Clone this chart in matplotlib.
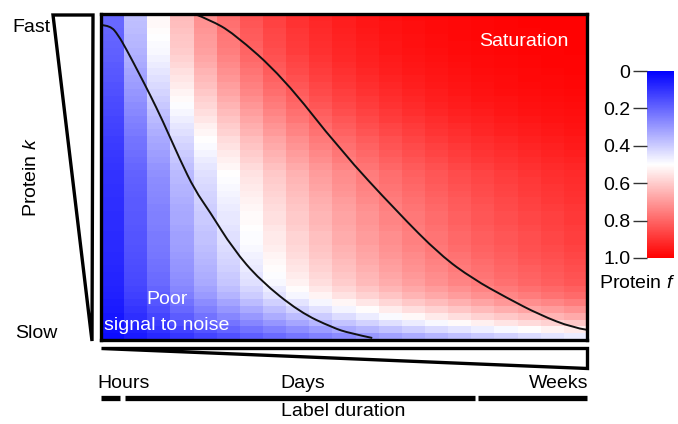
import numpy as np
import matplotlib
matplotlib.use('Agg')
import matplotlib.pyplot as plt
from matplotlib.patches import Polygon, PathPatch
from matplotlib.path import Path
from matplotlib import cm, colors

plt.rcParams['font.family'] = ['Liberation Sans', 'DejaVu Sans']
plt.rcParams['mathtext.fontset'] = 'custom'
plt.rcParams['mathtext.rm'] = 'Liberation Sans'
plt.rcParams['mathtext.it'] = 'Liberation Sans:italic'

# label duration per column (units of 1/k_fast)
label_time = [0.22, 0.45, 0.69, 0.95, 1.20, 1.45, 1.70, 1.95, 2.20, 2.45, 2.70,
              2.95, 3.20, 3.45, 3.70, 3.95, 4.20, 4.45, 4.70, 4.95, 5.20]
# relative turnover rate per row, fast (top) to slow (bottom)
protein_k = [1.05, 1.04, 1.02, 1.00, 0.98, 0.96, 0.93, 0.90, 0.87, 0.84, 0.81, 0.78,
             0.75, 0.72, 0.69, 0.66, 0.63, 0.61, 0.58, 0.56, 0.54, 0.52, 0.50, 0.48,
             0.47, 0.46, 0.45, 0.44, 0.43, 0.42, 0.42, 0.41, 0.40, 0.40, 0.39, 0.38,
             0.37, 0.36, 0.35, 0.34, 0.32, 0.30, 0.27, 0.24, 0.21, 0.18, 0.15, 0.12]

# guide curves in (column, row) units
lower_x = [0, 0.40, 0.74, 1.11, 1.68, 2.12, 2.65, 3.42, 4.05, 4.70, 5.71, 6.87,
           8.59, 10.02, 10.75, 11.72]
lower_y = [1.63, 1.70, 3.07, 5.28, 8.98, 11.9, 15.6, 21.5, 25.9, 29.1, 34.6, 39.2,
           43.9, 46.2, 47.0, 47.7]
upper_x = [4.05, 4.70, 5.71, 7.85, 10.33, 12.79, 14.66, 16.07, 17.54, 18.96, 20.39, 21.0]
upper_y = [0.0, 0.86, 2.78, 9.26, 20.0, 29.1, 35.5, 39.0, 41.8, 44.3, 46.2, 46.5]

cbar_ticks = [0, 0.2, 0.4, 0.6, 0.8, 1.0]
cbar_labels = ['0', '0.2', '0.4', '0.6', '0.8', '1.0']

FS = 14


def smooth_path(xs, ys):
    # quadratic bezier through midpoints, using the points as control points
    pts = list(zip(xs, ys))
    verts = [pts[0]]
    codes = [Path.MOVETO]
    for i in range(1, len(pts) - 1):
        mid = ((pts[i][0] + pts[i + 1][0]) / 2, (pts[i][1] + pts[i + 1][1]) / 2)
        if i == len(pts) - 2:
            mid = pts[-1]
        verts += [pts[i], mid]
        codes += [Path.CURVE3, Path.CURVE3]
    return Path(verts, codes)


W, H = 678, 424
fig = plt.figure(figsize=(W / 100, H / 100), dpi=100)

# pixel-space overlay for wedges, bars and labels
bg = fig.add_axes([0, 0, 1, 1])
bg.set_xlim(0, W)
bg.set_ylim(H, 0)
bg.axis('off')

ax = fig.add_axes([101 / W, (H - 340) / H, 486 / W, 326 / H])
t = np.array(label_time)
k = np.array(protein_k)
frac = 1 - np.exp(-np.outer(k, t))
ax.pcolormesh(np.arange(len(t) + 1), np.arange(len(k) + 1), frac,
              cmap='bwr', vmin=0, vmax=1)
ax.set_xlim(0, len(t))
ax.set_ylim(len(k), 0)
for xs, ys in [(lower_x, lower_y), (upper_x, upper_y)]:
    ax.add_patch(PathPatch(smooth_path(xs, ys), fc='none', ec='#111111', lw=1.4))
ax.set_xticks([])
ax.set_yticks([])
for s in ax.spines.values():
    s.set_linewidth(2.4)
ax.text(0.87, 0.915, 'Saturation', color='white', fontsize=FS,
        ha='center', va='center', transform=ax.transAxes)
ax.text(0.135, 0.125, 'Poor', color='white', fontsize=FS,
        ha='center', va='center', transform=ax.transAxes)
ax.text(0.135, 0.045, 'signal to noise', color='white', fontsize=FS,
        ha='center', va='center', transform=ax.transAxes)

# rate wedge (left) and duration wedge (bottom)
bg.add_patch(Polygon([(53, 15), (93, 15), (92, 341)], closed=True, fc='white',
                     ec='black', lw=2.4, joinstyle='miter'))
bg.add_patch(Polygon([(101, 348), (587, 348), (587, 368)], closed=True, fc='white',
                     ec='black', lw=2.4, joinstyle='miter'))

for x0, x1 in [(101, 120), (125, 475), (478, 587)]:
    bg.plot([x0, x1], [398, 398], color='black', lw=3.8, solid_capstyle='butt')

bg.text(50, 28, 'Fast', ha='right', va='center', fontsize=FS)
bg.text(58, 333, 'Slow', ha='right', va='center', fontsize=FS)
bg.text(32, 177, 'Protein $\\it{k}$', rotation=90, ha='center', va='center', fontsize=FS)
bg.text(97, 383, 'Hours', ha='left', va='center', fontsize=FS)
bg.text(303, 383, 'Days', ha='center', va='center', fontsize=FS)
bg.text(588, 383, 'Weeks', ha='right', va='center', fontsize=FS)
bg.text(343, 411, 'Label duration', ha='center', va='center', fontsize=FS)
bg.text(637, 283, 'Protein $\\it{f}$', ha='center', va='center', fontsize=FS)

cax = fig.add_axes([647 / W, (H - 258) / H, 27 / W, 187 / H])
cb = fig.colorbar(cm.ScalarMappable(norm=colors.Normalize(0, 1), cmap='bwr'),
                  cax=cax, ticks=cbar_ticks)
cb.outline.set_visible(False)
cax.invert_yaxis()
cax.yaxis.set_ticks_position('left')
cax.set_yticklabels(cbar_labels)
cax.tick_params(axis='y', length=10, width=1.0, labelsize=FS, pad=2, color='#333333')

fig.savefig('out.png', dpi=100)
